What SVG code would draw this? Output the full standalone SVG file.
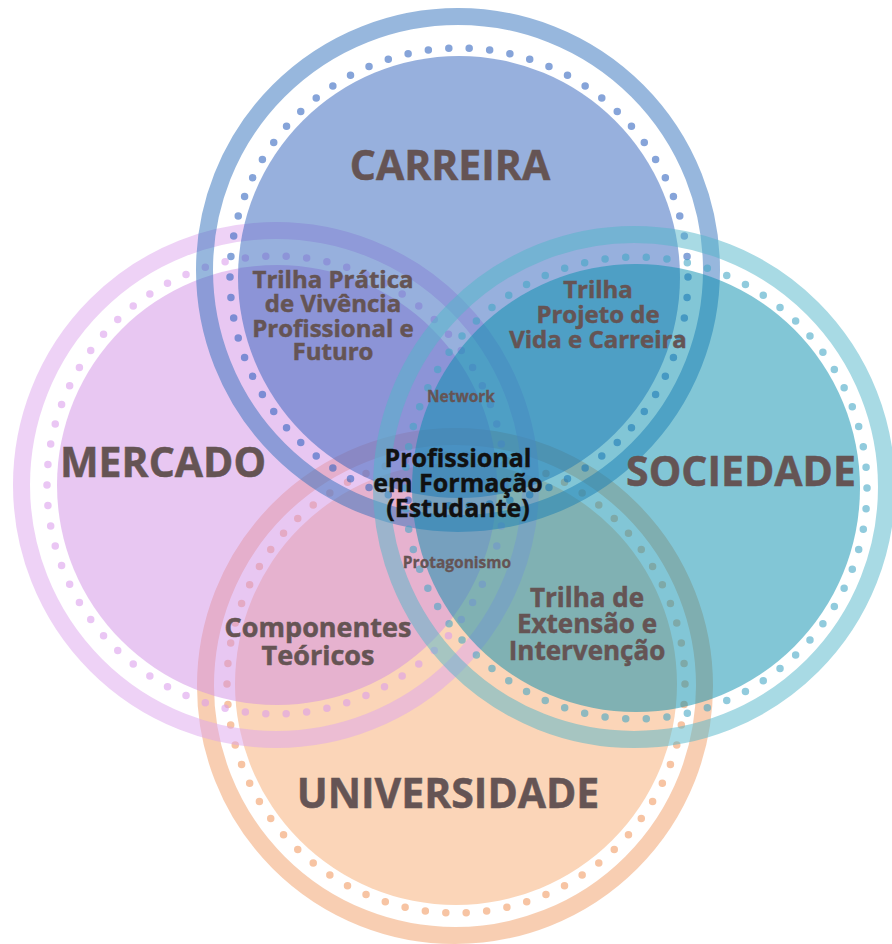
<svg xmlns="http://www.w3.org/2000/svg" width="892" height="944" viewBox="0 0 892 944">
<style>
.ring{fill:none;stroke-width:17;opacity:.5}
.dots{fill:none;stroke-width:7.5;stroke-linecap:round;stroke-dasharray:0 1;opacity:.58}
.fill{opacity:.5}
.lbl{font-family:"Open Sans","Liberation Sans",sans-serif;font-weight:700;fill:#655454;stroke:#655454;stroke-width:.5;text-anchor:middle}
.big{font-size:41px}
.mid{font-size:24px}
.sm{font-size:15.5px;stroke-width:.3}
.ctr{font-family:"Open Sans","Liberation Sans",sans-serif;font-weight:700;fill:#111;stroke:#111;stroke-width:.4;text-anchor:middle;font-size:25px}
</style>
<rect width="892" height="944" fill="#fff"/>
<g id="universidade">
<circle class="ring" cx="455" cy="686" r="249.5" stroke="#F19D65"/>
<circle class="dots" cx="456" cy="684" r="229" stroke="#F19A60" pathLength="70"/>
<circle class="fill" cx="456" cy="684" r="221" fill="#F7AB71"/>
</g>
<g id="mercado">
<circle class="ring" cx="276" cy="485" r="254.5" stroke="#DDA5ED"/>
<circle class="dots" cx="276" cy="485" r="229" stroke="#DA9CEC" pathLength="70"/>
<circle class="fill" cx="277" cy="485" r="220" fill="#D18FE5"/>
</g>
<g id="carreira">
<circle class="ring" cx="458" cy="270" r="253.5" stroke="#2F6FBB"/>
<circle class="dots" cx="459" cy="277" r="229" stroke="#2F63BE" pathLength="70"/>
<circle class="fill" cx="459" cy="277" r="221" fill="#2F61BB"/>
</g>
<g id="sociedade">
<circle class="ring" cx="634" cy="487" r="252.5" stroke="#51B5C9"/>
<circle class="dots" cx="636" cy="488" r="231" stroke="#41A6C4" pathLength="70"/>
<circle class="fill" cx="636" cy="488" r="224" fill="#058DAD"/>
</g>
<g id="labels">
<text class="lbl big" x="450" y="180" font-size="42">CARREIRA</text>
<text class="lbl big" x="163" y="477">MERCADO</text>
<text class="lbl big" x="741" y="486">SOCIEDADE</text>
<text class="lbl big" x="448" y="808" font-size="42">UNIVERSIDADE</text>
<text class="lbl mid" x="333"><tspan x="333" y="288">Trilha Prática</tspan><tspan x="333" y="312">de Vivência</tspan><tspan x="333" y="337">Profissional e</tspan><tspan x="333" y="360">Futuro</tspan></text>
<text class="lbl mid" x="598" font-size="24.5"><tspan x="598" y="298">Trilha</tspan><tspan x="598" y="323">Projeto de</tspan><tspan x="598" y="348">Vida e Carreira</tspan></text>
<text class="lbl sm" x="461" y="402">Network</text>
<text class="ctr" x="458"><tspan x="458" y="467">Profissional</tspan><tspan x="458" y="492">em Formação</tspan><tspan x="458" y="517">(Estudante)</tspan></text>
<text class="lbl sm" x="457" y="568">Protagonismo</text>
<text class="lbl" x="318" font-size="27"><tspan x="318" y="637">Componentes</tspan><tspan x="318" y="665">Teóricos</tspan></text>
<text class="lbl" x="587" font-size="26"><tspan x="587" y="607">Trilha de</tspan><tspan x="587" y="633">Extensão e</tspan><tspan x="587" y="660">Intervenção</tspan></text>
</g>
</svg>
